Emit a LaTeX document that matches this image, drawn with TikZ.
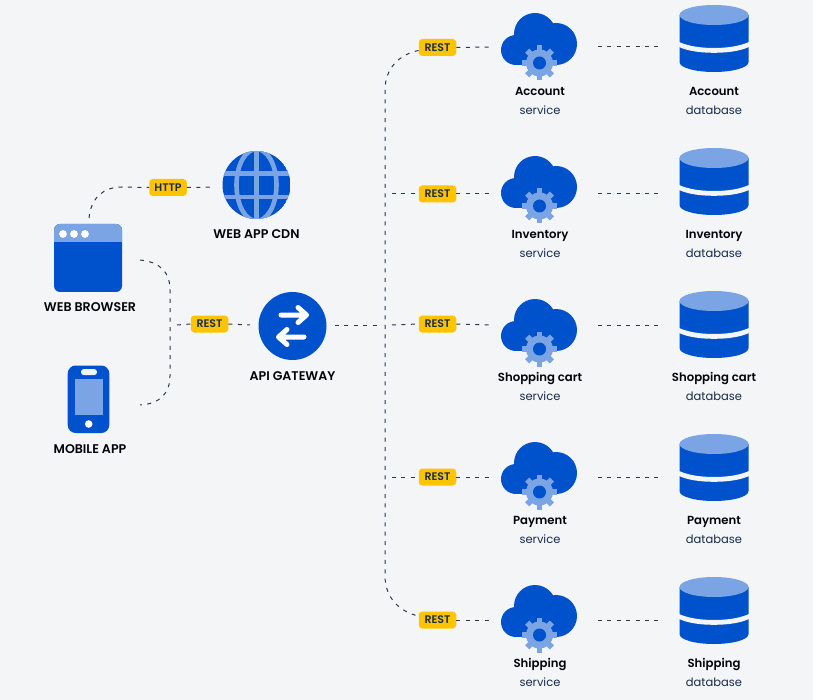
\documentclass[tikz,border=0pt]{standalone}
\usepackage{fontspec}
\setmainfont{Poppins}
\newfontfamily\semifont{Poppins SemiBold}
\definecolor{bgc}{HTML}{F4F5F7}
\definecolor{blue1}{HTML}{0052CC}
\definecolor{blue2}{HTML}{7BA4E4}
\definecolor{ylw}{HTML}{FFC400}
\definecolor{ink}{HTML}{172B4D}
\definecolor{lineink}{HTML}{2C3850}
\tikzset{
  x=1pt,y=-1pt,
  conn/.style={draw=lineink,line width=1pt,dash pattern=on 4pt off 5.4pt},
  badge/.style={fill=ylw,rounded corners=3.5pt,minimum width=37.5pt,minimum height=17pt,inner sep=0pt,font=\fontsize{11}{11}\selectfont\semifont,text=ink},
  cap1/.style={font=\fontsize{11.7}{14}\selectfont\semifont,text=black!90!ink,inner sep=0pt,anchor=base},
  capu/.style={font=\fontsize{12.6}{14}\selectfont\semifont,text=black!90!ink,inner sep=0pt,anchor=base},
  cap2/.style={font=\fontsize{11.5}{14}\selectfont,text=ink,inner sep=0pt,anchor=base},
  cloudicon/.pic={
    \fill[blue1] (-24,3) circle[radius=15] (-5,-13) circle[radius=21] (16,-3) circle[radius=21];
    \fill[blue1] (-24,-3) rectangle (16,18);
    \fill[blue2] (-0.5,16) circle[radius=13.5];
    \foreach \a in {0,45,...,315}{
      \fill[blue2,rotate around={\a:(-0.5,16)}] (-3.4,4) rectangle (2.4,-1.5);
    }
    \fill[blue1] (-0.5,16) circle[radius=6.5];
  }
}
\newcommand{\dbshape}[1]{%
  \begin{scope}[shift={#1}]
    \fill[blue1] (-34.5,10) -- (-34.5,57) .. controls (-34.5,63) and (-18,67) .. (0,67) .. controls (18,67) and (34.5,63) .. (34.5,57) -- (34.5,10) -- cycle;
    \fill[bgc] (-35,37) .. controls (-26,41) and (-14,43) .. (0,43) .. controls (14,43) and (26,41) .. (35,37) -- (35,42) .. controls (26,46) and (14,47.8) .. (0,47.8) .. controls (-14,47.8) and (-26,46) .. (-35,42) -- cycle;
    \fill[blue2] (0,10) ellipse[x radius=34.5,y radius=10];
  \end{scope}}
\begin{document}
\begin{tikzpicture}
\fill[bgc] (0,0) rectangle (813,700);
\useasboundingbox (0,0) rectangle (813,700);
% browser
\fill[blue1,rounded corners=6pt] (54,224) rectangle (122,292);
\begin{scope}
  \clip[rounded corners=6pt] (54,224) rectangle (122,292);
  \fill[blue2] (54,224) rectangle (122,242.5);
\end{scope}
\foreach \x in {63,74,85}{\fill[white] (\x,234) circle[radius=3.9];}
\node[capu] (browserlbl) at (90,311.5) {WEB BROWSER};
% phone
\fill[blue1,rounded corners=8pt] (67.7,365.5) rectangle (109.3,433);
\fill[blue2] (74.5,378.5) rectangle (103,415);
\fill[white!90!blue2,rounded corners=3pt] (81,369) rectangle (97,375.2);
\fill[white] (88.7,424) circle[radius=3.8];
\node[capu] (mobilelbl) at (90,453.5) {MOBILE APP};
% globe
\begin{scope}
  \clip (256.5,185) circle[radius=34];
  \fill[blue1] (256.5,185) circle[radius=34];
  \draw[blue2,line width=5pt] (256.5,151) -- (256.5,219);
  \draw[blue2,line width=4.6pt] (222,173.5) -- (291,173.5) (222,197) -- (291,197);
  \draw[blue2,line width=4.6pt] (256.5,185) ellipse[x radius=20,y radius=36];
\end{scope}
\node[capu] (cdnlbl) at (256.5,239) {WEB APP CDN};
% gateway
\fill[blue1] (292.5,326) circle[radius=34];
\draw[white,line width=5pt,line cap=round,line join=round] (281,315) -- (305,315) (298,307.5) -- (306.5,315) -- (298,322.5);
\draw[white,line width=5pt,line cap=round,line join=round] (304,337) -- (279,337) (287,329.5) -- (278.5,337) -- (287,344.5);
\node[capu] (apilbl) at (292.5,380) {API GATEWAY};
% named junctions
\coordinate (hs) at (89,218);
\coordinate (he) at (215,187);
\coordinate (bs) at (140,260);
\coordinate (ms) at (140,405);
\coordinate (js) at (177,325);
\coordinate (je) at (250,325);
\coordinate (gs) at (335,325);
\coordinate (ge) at (378,325);
% connectors left
\node[badge] (http) at (168,187.5) {HTTP};
\node[badge] (restg) at (209.5,324) {REST};
\draw[conn] (hs) .. controls (91,198) and (103,187) .. (122,187) -- (http.west);
\draw[conn] (http.east) -- (he);
\draw[conn] (bs) .. controls (160,262) and (170,272) .. (170,290) -- (170,376) .. controls (170,393) and (160,404) .. (ms);
\draw[conn] (js) -- (restg.west);
\draw[conn] (restg.east) -- (je);
% rows
\foreach \n/\by/\ly/\cy/\tya/\tyb/\ta in {
  a/47.5/47/14/96/115/Account,
  b/194/194/157/238.5/257.5/Inventory,
  c/324/325/300/381.5/400.5/Shopping cart,
  d/477/477/443/524.5/543.5/Payment,
  e/620/620/586/667.5/686.5/Shipping}{
  \node[badge] (r\n) at (437.5,\by) {REST};
  \pic at (540,{\cy+33}) {cloudicon};
  \dbshape{(714,{\cy-9})}
  \node[cap1] (sl\n) at (540,\tya) {\ta};
  \node[cap2] (st\n) at (540,\tyb) {service};
  \node[cap1] (dl\n) at (714,\tya) {\ta};
  \node[cap2] (dt\n) at (714,\tyb) {database};
  \coordinate (s\n) at (490,\ly);
  \coordinate (o\n) at (598,\ly);
  \coordinate (p\n) at (660,\ly);
  \draw[conn] (r\n.east) -- (s\n);
  \draw[conn] (o\n) -- (p\n);
}
% trunk
\coordinate (t2) at (392,194);
\coordinate (t3) at (392,325);
\coordinate (t4) at (392,477);
\draw[conn] (gs) -- (ge);
\draw[conn] (t2) -- (rb.west);
\draw[conn] (t3) -- (rc.west);
\draw[conn] (t4) -- (rd.west);
\draw[conn] ([yshift=-3pt]ra.west) .. controls (400,54) and (385,68) .. (385,90) -- (385,576) .. controls (385,598) and (400,612) .. ([yshift=4pt]re.west);
\end{tikzpicture}
\end{document}
